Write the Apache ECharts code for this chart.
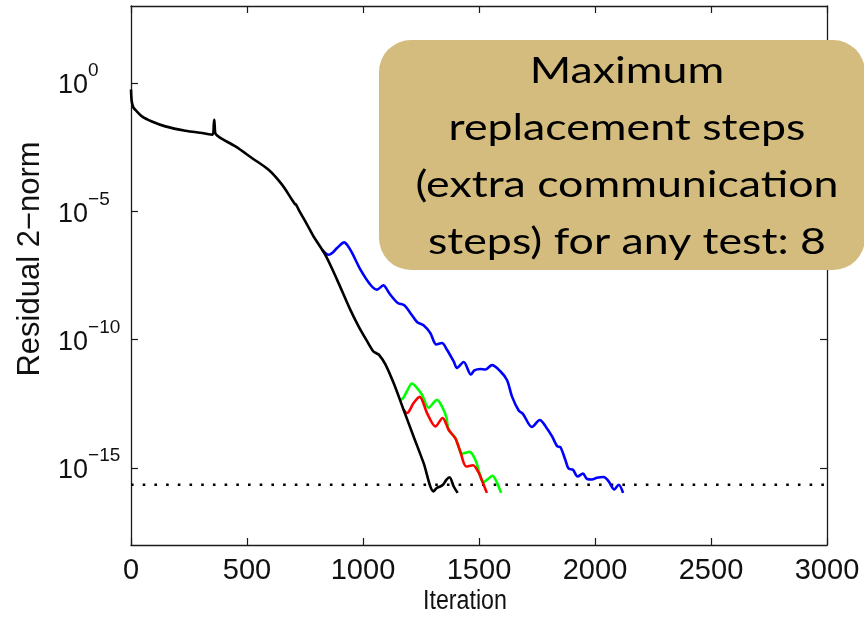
<!DOCTYPE html>
<html>
<head>
<meta charset="utf-8">
<script src="https://cdn.jsdelivr.net/npm/echarts@6/dist/echarts.min.js"></script>
<style>
  html, body { margin: 0; padding: 0; background: #ffffff; }
  #chart { width: 864px; height: 617px; }
</style>
</head>
<body>
<div id="chart"></div>
<script>
// Residual 2-norm history (log10 of the residual) against iteration count.
const xTickStep = 500;
const yTickExponents = [-15, -10, -5, 0];

const blackIter = [0, 3, 10, 20, 47, 90, 148, 234, 306, 352, 357, 359, 361, 364, 385, 450, 521, 593, 651, 694, 707, 712, 722, 759, 787, 837, 888, 945, 981, 1017, 1045, 1058, 1070, 1096, 1132, 1175, 1218, 1261, 1304, 1318, 1333, 1345, 1360, 1373, 1391, 1408];
const blackLogRes = [-0.25, -0.7, -0.95, -1.06, -1.30, -1.50, -1.69, -1.86, -1.95, -2.01, -1.6, -1.43, -1.7, -1.97, -2.14, -2.47, -2.92, -3.38, -3.96, -4.55, -4.72, -4.74, -4.92, -5.52, -5.98, -6.69, -7.66, -8.83, -9.48, -10.05, -10.46, -10.53, -10.6, -10.95, -11.69, -12.73, -13.77, -14.80, -15.91, -15.78, -15.72, -15.65, -15.45, -15.36, -15.72, -15.97];

const blueIter = [823, 852, 870, 888, 919, 935, 953, 989, 1032, 1060, 1089, 1100, 1118, 1150, 1178, 1204, 1233, 1261, 1290, 1316, 1340, 1362, 1391, 1405, 1434, 1465, 1480, 1506, 1527, 1556, 1592, 1621, 1642, 1671, 1690, 1728, 1762, 1790, 1815, 1838, 1850, 1872, 1886, 1905, 1925, 1948, 1966, 1987, 2008, 2037, 2059, 2083, 2102, 2121];
const blueLogRes = [-6.49, -6.69, -6.6, -6.43, -6.21, -6.35, -6.62, -7.27, -7.86, -8.05, -7.88, -8.0, -8.25, -8.57, -8.66, -8.96, -9.31, -9.44, -9.74, -10.19, -10.13, -10.39, -10.85, -11.10, -10.87, -11.36, -11.2, -11.14, -11.16, -10.99, -11.23, -11.58, -12.21, -12.76, -12.9, -13.40, -13.13, -13.42, -13.77, -14.16, -14.18, -14.68, -15.02, -15.07, -15.33, -15.22, -15.43, -15.45, -15.38, -15.35, -15.52, -15.84, -15.65, -15.97];

const greenIter = [1161, 1175, 1190, 1211, 1225, 1254, 1283, 1300, 1319, 1340, 1359, 1369, 1398, 1415, 1425, 1460, 1485, 1520, 1540, 1558, 1578, 1595];
const greenLogRes = [-12.36, -12.25, -12.0, -11.71, -11.8, -12.14, -12.66, -12.5, -12.34, -12.60, -13.01, -13.51, -13.83, -14.25, -14.45, -14.37, -14.70, -15.55, -15.42, -15.30, -15.58, -15.97];

const redIter = [1175, 1190, 1218, 1244, 1276, 1312, 1343, 1369, 1398, 1419, 1445, 1474, 1498, 1517, 1534];
const redLogRes = [-12.73, -12.86, -12.47, -12.23, -12.86, -13.38, -13.05, -13.51, -13.85, -14.35, -14.94, -14.89, -15.17, -15.58, -15.97];

// Floating-point precision level drawn as a dotted reference line
const precisionIter = [0, 3000];
const precisionLogRes = [-15.65, -15.65];

const xTitle = 'Iteration';
const yTitle = 'Residual 2\u2212norm';
const noteLines = ['Maximum', 'replacement steps', '(extra communication', 'steps) for any test: 8'];

const pairs = (xs, ys) => xs.map((x, i) => [x, ys[i]]);

const axisColor = '#1a1a1a';
const textColor = '#111111';
const labelFont = 'Liberation Sans';

// Fit the note text to its box width
const noteFontSize = 36;
const noteFont = 'Lato';
const measureCtx = document.createElement('canvas').getContext('2d');
measureCtx.font = noteFontSize + 'px ' + noteFont;
const widest = Math.max(...noteLines.map(t => measureCtx.measureText(t).width));
const noteScaleX = 423 / widest;

const chart = echarts.init(document.getElementById('chart'), null, { renderer: 'canvas' });

const lineSeries = (name, xs, ys, color) => ({
  name,
  type: 'line',
  data: pairs(xs, ys),
  showSymbol: false,
  smooth: 0.3,
  lineStyle: { color, width: 2.6 },
  xAxisIndex: 0,
  yAxisIndex: 0,
  silent: true
});

const frameAxis = {
  axisLine: { show: true, onZero: false, lineStyle: { color: axisColor, width: 1.3 } },
  splitLine: { show: false }
};
const tickStyle = { show: true, inside: true, length: 7, lineStyle: { color: axisColor, width: 1.2 } };

chart.setOption({
  animation: false,
  backgroundColor: '#ffffff',
  grid: { left: 131, top: 6, width: 696, height: 539, containLabel: false, outerBoundsMode: 'none' },
  xAxis: [
    Object.assign({
      type: 'value', min: 0, max: 3000, interval: xTickStep, position: 'bottom',
      axisTick: tickStyle,
      axisLabel: { fontSize: 29, fontFamily: labelFont, color: textColor, margin: 11, formatter: v => String(v) }
    }, frameAxis),
    Object.assign({
      type: 'value', min: 0, max: 3000, interval: xTickStep, position: 'top',
      axisTick: tickStyle,
      axisLabel: { show: false }
    }, frameAxis)
  ],
  yAxis: [
    Object.assign({
      type: 'value', min: -18, max: 3, position: 'left',
      axisTick: Object.assign({ customValues: yTickExponents }, tickStyle),
      axisLabel: {
        customValues: yTickExponents,
        align: 'left',
        margin: 73,
        formatter: v => '{b|10}{s|' + (v === 0 ? '0' : '\u2212' + Math.abs(v)) + '}',
        rich: {
          b: { fontSize: 27, fontFamily: labelFont, color: textColor, verticalAlign: 'bottom', padding: [0, 0, 5, 0] },
          s: { fontSize: 19, fontFamily: labelFont, color: textColor, verticalAlign: 'bottom', padding: [0, 0, 24, 0] }
        }
      }
    }, frameAxis),
    Object.assign({
      type: 'value', min: -18, max: 3, position: 'right',
      axisTick: Object.assign({ customValues: yTickExponents }, tickStyle),
      axisLabel: { show: false }
    }, frameAxis)
  ],
  series: [
    {
      name: 'precision', type: 'line', data: pairs(precisionIter, precisionLogRes),
      showSymbol: false, silent: true,
      lineStyle: { color: '#000', width: 2.6, type: [2.6, 9.1] }
    },
    lineSeries('blue', blueIter, blueLogRes, '#0000ff'),
    lineSeries('green', greenIter, greenLogRes, '#00ff00'),
    lineSeries('red', redIter, redLogRes, '#ff0000'),
    lineSeries('black', blackIter, blackLogRes, '#000000')
  ],
  graphic: [
    {
      type: 'text', z: 50,
      x: 465, y: 602, scaleX: 0.86,
      style: { text: xTitle, fontSize: 27, fontFamily: labelFont, fill: textColor, align: 'center', verticalAlign: 'middle' }
    },
    {
      type: 'text', z: 50,
      x: 30, y: 259, rotation: Math.PI / 2,
      style: { text: yTitle, fontSize: 31, fontFamily: labelFont, fill: textColor, align: 'center', verticalAlign: 'middle' }
    },
    {
      type: 'rect', z: 100,
      shape: { x: 379, y: 40, width: 486, height: 230, r: 32 },
      style: { fill: '#d4bc7f' }
    },
    {
      type: 'text', z: 101,
      x: 627, y: 157, scaleX: noteScaleX,
      style: {
        text: noteLines.join('\n'),
        fontSize: noteFontSize, fontFamily: noteFont, lineHeight: 57,
        fill: '#000', align: 'center', verticalAlign: 'middle'
      }
    }
  ]
});
</script>
</body>
</html>
